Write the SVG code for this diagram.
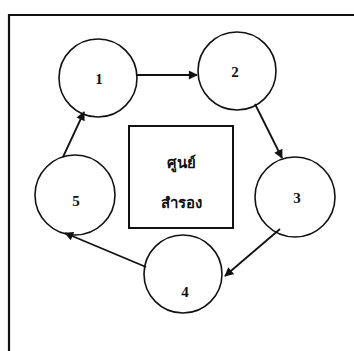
<svg xmlns="http://www.w3.org/2000/svg" width="354" height="351" viewBox="0 0 354 351">
<style>
.n{fill:none;stroke:#111;stroke-width:1.6}
.t{font-family:"Liberation Serif",serif;font-weight:bold;font-size:15px;fill:#111;text-anchor:middle}
.th{font-family:"Noto Sans","Noto Sans CJK SC",sans-serif;font-weight:bold;font-size:15px;fill:#111;text-anchor:middle}
.c{stroke:#111;stroke-width:1.8;fill:none;marker-end:url(#ah)}
</style>
<defs>
<marker id="ah" viewBox="0 0 10 10" refX="9" refY="5" markerWidth="10" markerHeight="9" markerUnits="userSpaceOnUse" orient="auto">
<path d="M0,0L10,5L0,10z" fill="#111"/>
</marker>
</defs>
<rect width="354" height="351" fill="#fff"/>
<path d="M9,351V15H354" fill="none" stroke="#111" stroke-width="2.2"/>
<g id="n1"><circle class="n" cx="98" cy="78" r="39"/><text class="t" x="99" y="84">1</text></g>
<g id="n2"><circle class="n" cx="237" cy="71" r="39"/><text class="t" x="235" y="77">2</text></g>
<g id="n3"><circle class="n" cx="295" cy="197" r="40"/><text class="t" x="297" y="203">3</text></g>
<g id="n4"><circle class="n" cx="183" cy="274" r="39"/><text class="t" x="185" y="297">4</text></g>
<g id="n5"><circle class="n" cx="75" cy="195" r="40"/><text class="t" x="76" y="206">5</text></g>
<g id="center"><rect x="129" y="126" width="104" height="102" fill="none" stroke="#111" stroke-width="2"/>
<text class="th" x="181" y="168">ศูนย์</text><text class="th" x="181" y="208">สำรอง</text></g>
<g id="connectors">
<path class="c" d="M137,75H197"/>
<path class="c" d="M255,104L282,158"/>
<path class="c" d="M280,229L225,276"/>
<path class="c" d="M146,267L65,233"/>
<path class="c" d="M63,157L84,112"/>
</g>
</svg>
